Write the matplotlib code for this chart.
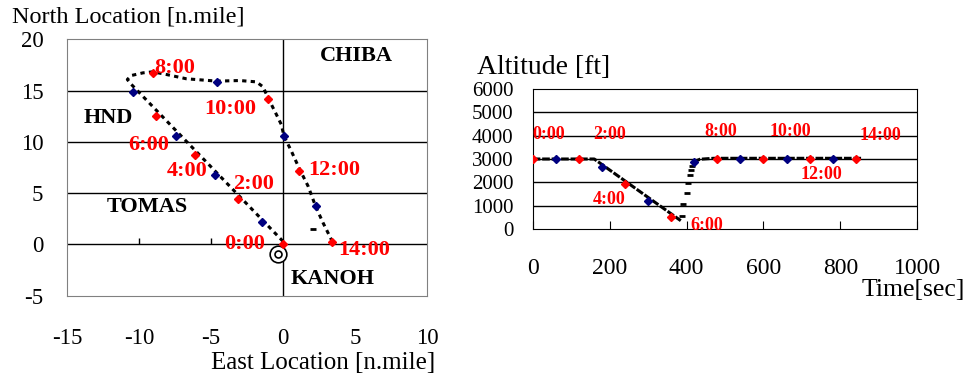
import numpy as np
import matplotlib.pyplot as plt

plt.rcParams['font.family'] = ['Liberation Serif', 'DejaVu Serif']
plt.rcParams['axes.unicode_minus'] = False

# --- ground track (east, north) [n.mile] ---
path_e = [0.0, -10.53, -10.81, -10.53, -9.72, -9.03, -8.10, -6.71, -4.58, -3.01, -1.85,
          -1.39, -1.04, -0.46, -0.12, 0.07, 0.58, 1.16, 1.74, 2.27, 2.78, 3.47]
path_n = [0.3, 15.6, 16.08, 16.47, 16.73, 16.83, 16.57, 16.15, 15.92, 15.98, 15.85,
          15.37, 14.30, 12.67, 11.70, 10.56, 9.10, 7.31, 5.69, 3.70, 2.11, 0.16]
stray_e, stray_n = [2.08], [1.53]

# markers each minute: even minutes red, odd minutes blue
red_e = [0.0, -3.10, -6.13, -8.80, -9.03, -1.04, 1.13, 3.40]
red_n = [0.0, 4.45, 8.74, 12.57, 16.70, 14.17, 7.18, 0.19]
blue_e = [-1.46, -4.70, -7.41, -10.42, -4.58, 0.07, 2.27]
blue_n = [2.21, 6.76, 10.62, 14.88, 15.82, 10.56, 3.70]

time_lbl = ['0:00', '2:00', '4:00', '6:00', '8:00', '10:00', '12:00', '14:00']
lbl_e = [-2.66, -2.04, -6.64, -9.33, -7.52, -3.66, 3.59, 5.67]
lbl_n = [0.0, 5.85, 7.15, 9.68, 17.2, 13.2, 7.21, -0.55]

places = ['CHIBA', 'HND', 'TOMAS', 'KANOH']
place_e = [5.09, -12.1, -9.42, 3.47]
place_n = [18.4, 12.3, 3.67, -3.35]
site_e, site_n = -0.37, -0.97

# --- altitude profile ---
alt_t = [0, 160, 385]
alt_v = [3000, 3000, 357]
climb_t = [387.4, 391.6, 400.4, 403.8, 409.0, 411.6, 414.2]
climb_v = [557, 1071, 1530, 1959, 2314, 2529, 2700]
level_t = [417, 435, 470, 855]
level_v = [2860, 2990, 3030, 3030]

red_t = [0, 120, 240, 360, 480, 600, 720, 840]
red_alt = [3000, 3000, 1915, 520, 3020, 3000, 3000, 3000]
blue_t = [60, 180, 300, 420, 540, 660, 780]
blue_alt = [3000, 2643, 1214, 2860, 3000, 3000, 3000]

alt_lbl_t = [41, 201, 198, 452, 489, 669, 751, 903]
alt_lbl_v = [4030, 4030, 1243, 171, 4173, 4173, 2315, 3987]

RED = '#ff0000'
BLUE = '#000080'

fig = plt.figure(figsize=(9.69, 3.78), dpi=100)

# ---------------- left: ground track ----------------
ax = fig.add_axes([67/969, 1-295.7/378, 360/969, 256.4/378])
ax.set_xlim(-15, 10)
ax.set_ylim(-5, 20)
for s in ax.spines.values():
    s.set_color('#808080')
for y in [5, 10, 15]:
    ax.axhline(y, color='black', lw=1)
ax.axhline(0, color='black', lw=1)
ax.axvline(0, color='black', lw=1)
xt = [-15, -10, -5, 0, 5, 10]
ax.set_xticks(xt)
ax.set_yticks([-5, 0, 5, 10, 15, 20])
ax.tick_params(axis='x', length=0, pad=23, labelsize=16.5)
ax.tick_params(axis='y', length=0, pad=17, labelsize=16.5)
ax.vlines([-10, -5], 0, 0.6, color='black', lw=1)

ax.plot(path_e, path_n, color='black', lw=2.2, ls=(0, (1.4, 1.4)))
ax.plot(stray_e, stray_n, ls='none', marker='_', ms=5, mew=2, color='black')
ax.plot(red_e, red_n, ls='none', marker='D', ms=4.3, color=RED, zorder=3)
ax.plot(blue_e, blue_n, ls='none', marker='D', ms=4.3, color=BLUE, zorder=3)
ax.plot(site_e, site_n, ls='none', marker='o', ms=12, mfc='white', mec='black', mew=1.2)
ax.plot(site_e, site_n, ls='none', marker='o', ms=5, mfc='none', mec='black', mew=1.2)
for s, e, n in zip(time_lbl, lbl_e, lbl_n):
    ax.text(e, n, s, color=RED, fontsize=16, fontweight='bold', ha='center', va='center')
for s, e, n in zip(places, place_e, place_n):
    ax.text(e, n, s, color='black', fontsize=16, fontweight='bold', ha='center', va='center')

fig.text(12/969, 1-17/378, 'North Location [n.mile]', fontsize=17.5, va='center', ha='left')
fig.text(435/969, 1-363/378, 'East Location [n.mile]', fontsize=18, va='center', ha='right')

# ---------------- right: altitude ----------------
bx = fig.add_axes([532.7/969, 1-229/378, 384.6/969, 140/378])
bx.set_xlim(0, 1000)
bx.set_ylim(0, 6000)
for s in bx.spines.values():
    s.set_color('black')
for y in range(1000, 6000, 1000):
    bx.axhline(y, color='black', lw=1)
bx.set_xticks(range(0, 1001, 200))
bx.set_yticks(range(0, 6001, 1000))
bx.tick_params(axis='x', direction='in', length=6, pad=21, labelsize=17)
bx.tick_params(axis='y', length=0, pad=14, labelsize=15)

bx.plot(alt_t, alt_v, color='black', lw=2.2, ls=(0, (2.5, 0.6)))
bx.plot(climb_t, climb_v, ls='none', marker='_', ms=5, mew=2, color='black')
bx.plot(level_t, level_v, color='black', lw=2.2, ls=(0, (2.5, 0.6)))
bx.plot(red_t, red_alt, ls='none', marker='D', ms=4.3, color=RED, zorder=3)
bx.plot(blue_t, blue_alt, ls='none', marker='D', ms=4.3, color=BLUE, zorder=3)
for s, t, v in zip(time_lbl, alt_lbl_t, alt_lbl_v):
    bx.text(t, v, s, color=RED, fontsize=13, fontweight='bold', ha='center', va='center')

fig.text(477/969, 1-67/378, 'Altitude [ft]', fontsize=20, va='center', ha='left')
fig.text(965/969, 1-290/378, 'Time[sec]', fontsize=18.5, va='center', ha='right')

fig.savefig('out.png', dpi=100)
